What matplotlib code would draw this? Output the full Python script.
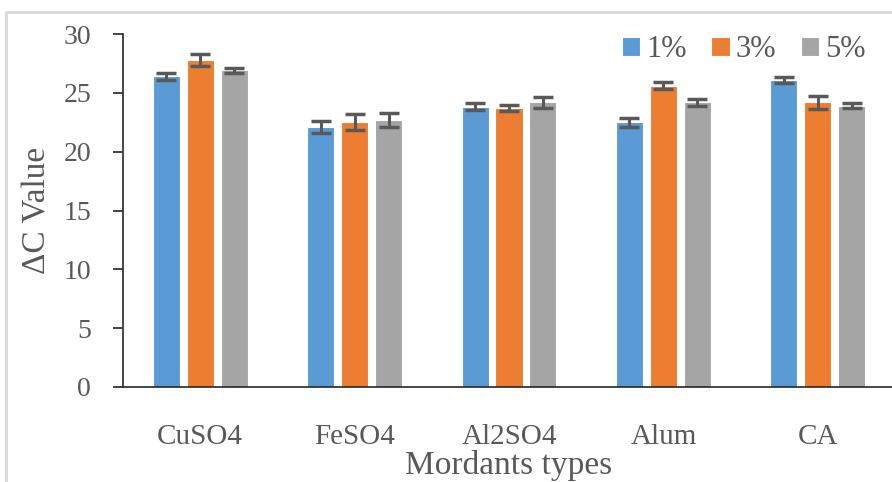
import numpy as np
import matplotlib.pyplot as plt
from matplotlib.patches import Rectangle

plt.rcParams['font.family'] = ['Liberation Serif', 'DejaVu Serif']

categories = ['CuSO4', 'FeSO4', 'Al2SO4', 'Alum', 'CA']
series_names = ['1%', '3%', '5%']
vals_1 = [26.4, 22.1, 23.8, 22.5, 26.1]
vals_3 = [27.8, 22.5, 23.7, 25.6, 24.2]
vals_5 = [26.9, 22.7, 24.2, 24.2, 23.9]
err_1 = [0.3, 0.5, 0.3, 0.4, 0.25]
err_3 = [0.5, 0.7, 0.25, 0.3, 0.55]
err_5 = [0.25, 0.6, 0.45, 0.3, 0.2]
yticks = [0, 5, 10, 15, 20, 25, 30]

colors = ['#5B9BD5', '#ED7D31', '#A5A5A5']
txt = '#595959'

fig = plt.figure(figsize=(8.92, 4.82), dpi=100)
ax = fig.add_axes([123/892, 1 - 387/482, 772/892, 353/482])

# light frame around the chart area (right and bottom sides are cut off)
fig.patches.append(Rectangle((6/892, -0.2), 1.2, 1.2 - 12/482, transform=fig.transFigure,
                             fill=False, edgecolor='#d9d9d9', linewidth=2, zorder=0))

x = np.arange(len(categories))
w = 0.175
step = 0.22
for i, (v, e) in enumerate(zip([vals_1, vals_3, vals_5], [err_1, err_3, err_5])):
    ax.bar(x + (i - 1) * step, v, width=w, color=colors[i], edgecolor='white',
           linewidth=0.8, label=series_names[i], zorder=2)
    ax.errorbar(x + (i - 1) * step, v, yerr=e, fmt='none', ecolor='#595959',
                elinewidth=2.2, capsize=7, capthick=2.5, zorder=3)

ax.set_xlim(-0.5, 4.5)
ax.set_ylim(0, 30)
ax.set_yticks(yticks)
ax.set_xticks(x)
ax.set_xticklabels(categories)
for s in ['top', 'right']:
    ax.spines[s].set_visible(False)
for s in ['left', 'bottom']:
    ax.spines[s].set_color('#262626')
    ax.spines[s].set_linewidth(1.2)
ax.tick_params(axis='y', length=7, width=1.2, color='#262626', pad=16,
               labelsize=20, labelcolor=txt)
ax.tick_params(axis='x', length=0, pad=27, labelsize=21, labelcolor=txt)

ax.set_xlabel('Mordants types', fontsize=24, color=txt, va='center')
ax.xaxis.set_label_coords(0.5, -0.221)
ax.set_ylabel('ΔC Value', fontsize=24, color=txt, va='center')
ax.yaxis.set_label_coords(-0.111, 0.5)

ax.legend(loc='center right', bbox_to_anchor=(0.962, 0.955), ncol=3, frameon=False,
          fontsize=22, labelcolor=txt, handlelength=0.6, handleheight=0.6,
          handletextpad=0.2, columnspacing=0.8, borderpad=0, borderaxespad=0)

fig.savefig('out.png', dpi=100)
